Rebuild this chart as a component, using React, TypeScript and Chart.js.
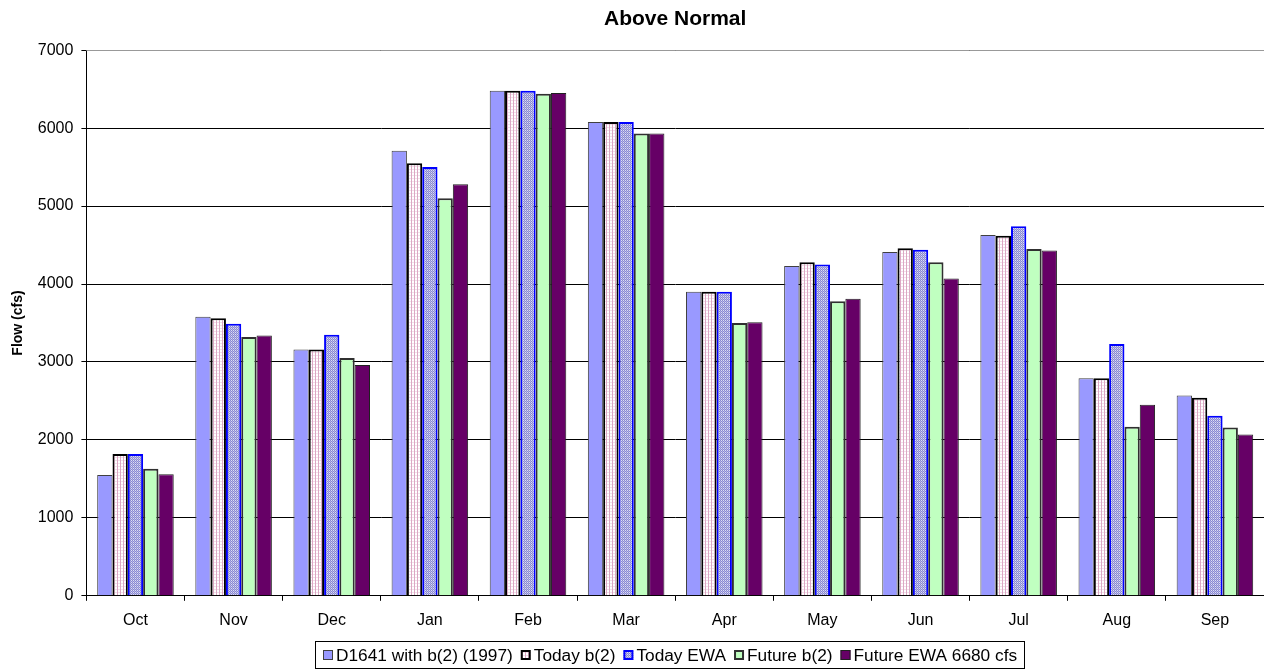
import React, { useEffect, useRef } from "react";
import { Chart, registerables } from "chart.js";

Chart.register(...registerables);

const months = ["Oct", "Nov", "Dec", "Jan", "Feb", "Mar", "Apr", "May", "Jun", "Jul", "Aug", "Sep"];
const seriesNames = ["D1641 with b(2) (1997)", "Today b(2)", "Today EWA", "Future b(2)", "Future EWA 6680 cfs"];
const d1641 = [1550, 3580, 3160, 5710, 6480, 6080, 3900, 4230, 4410, 4630, 2790, 2570];
const todayB2 = [1820, 3560, 3160, 5550, 6480, 6080, 3900, 4280, 4460, 4620, 2790, 2540];
const todayEWA = [1820, 3490, 3350, 5500, 6480, 6080, 3900, 4250, 4440, 4740, 3230, 2310];
const futureB2 = [1630, 3320, 3050, 5100, 6440, 5930, 3500, 3780, 4280, 4450, 2170, 2160];
const futureEWA = [1560, 3340, 2960, 5280, 6450, 5930, 3510, 3810, 4070, 4430, 2450, 2070];
const yTicks = [0, 1000, 2000, 3000, 4000, 5000, 6000, 7000];

const FONT = "Liberation Sans, Arial, sans-serif";

function makePattern(ctx: CanvasRenderingContext2D, w: number, h: number, draw: (c: CanvasRenderingContext2D) => void) {
  const c = document.createElement("canvas");
  c.width = w;
  c.height = h;
  const cc = c.getContext("2d")!;
  draw(cc);
  return ctx.createPattern(c, "repeat")!;
}

// Legend drawn in the style of the original (box, small gap, text, gap)
const boxedLegend = {
  id: "boxedLegend",
  afterDraw(chart: any) {
    const ctx = chart.ctx;
    const ds = chart.data.datasets;
    ctx.save();
    ctx.font = `17.3px ${FONT}`;
    ctx.textBaseline = "middle";
    const box = 10, gapBT = 3, gapItem = 8;
    const widths = ds.map((d: any) => ctx.measureText(d.label).width);
    let total = 0;
    widths.forEach((w: number, i: number) => {
      total += box + gapBT + w + (i < ds.length - 1 ? gapItem : 0);
    });
    const cx = 670;
    const cy = 655;
    let x = Math.round(cx - total / 2);
    const left = x - 8;
    const right = Math.round(x + total + 7);
    ctx.strokeStyle = "#000";
    ctx.lineWidth = 1;
    ctx.strokeRect(left + 0.5, 641.5, right - left, 27);
    ds.forEach((d: any, i: number) => {
      ctx.fillStyle = d.backgroundColor;
      ctx.fillRect(x, cy - 5, box, box);
      ctx.strokeStyle = d.borderColor;
      ctx.lineWidth = d.borderWidth > 1 ? 2 : 1;
      if (d.borderWidth > 1) ctx.strokeRect(x + 1, cy - 4, box - 2, box - 2);
      else ctx.strokeRect(x + 0.5, cy - 4.5, box - 1, box - 1);
      ctx.fillStyle = "#000";
      ctx.fillText(d.label, x + box + gapBT, cy + 1);
      x += box + gapBT + widths[i] + gapItem;
    });
    ctx.restore();
  },
};

const plotBorder = {
  id: "plotBorder",
  afterDatasetsDraw(chart: any) {
    const a = chart.chartArea;
    const ctx = chart.ctx;
    ctx.save();
    ctx.strokeStyle = "#999";
    ctx.lineWidth = 1;
    ctx.beginPath();
    ctx.moveTo(a.left, Math.round(a.top) + 0.5);
    ctx.lineTo(a.right, Math.round(a.top) + 0.5);
    ctx.stroke();
    ctx.restore();
  },
};

export default function App() {
  const ref = useRef<HTMLCanvasElement>(null);
  useEffect(() => {
    const canvas = ref.current!;
    const ctx = canvas.getContext("2d")!;
    const stripe = makePattern(ctx, 3, 3, (c) => {
      c.fillStyle = "#ffffff";
      c.fillRect(0, 0, 3, 3);
      c.fillStyle = "#dca8c4";
      c.fillRect(0, 0, 1, 3);
      c.fillStyle = "#f2e0ea";
      c.fillRect(1, 1, 2, 1);
    });
    const checker = makePattern(ctx, 2, 2, (c) => {
      c.fillStyle = "#b4b4e8";
      c.fillRect(0, 0, 2, 2);
      c.fillStyle = "#8a8ad0";
      c.fillRect(0, 0, 1, 1);
      c.fillRect(1, 1, 1, 1);
      c.fillStyle = "#dcdcf4";
      c.fillRect(1, 0, 1, 1);
    });
    const values = [d1641, todayB2, todayEWA, futureB2, futureEWA];
    const fills: any[] = ["#9999ff", stripe, checker, "#c0ffc0", "#660066"];
    const borders = ["#404040", "#000000", "#0000ff", "#303030", "#202020"];
    const widths = [1, 2, 2, 2, 1];
    const chart = new Chart(canvas, {
      type: "bar",
      data: {
        labels: months,
        datasets: values.map((v, i) => ({
          label: seriesNames[i],
          data: v,
          backgroundColor: fills[i],
          borderColor: borders[i],
          borderWidth: widths[i],
          categoryPercentage: 0.78,
          barPercentage: 1.0,
        })),
      },
      options: {
        animation: false,
        responsive: false,
        maintainAspectRatio: false,
        layout: { padding: { left: 10, right: 0, top: 0, bottom: 29 } },
        plugins: {
          title: {
            display: true,
            text: "Above Normal",
            fullSize: false,
            color: "#000",
            font: { family: FONT, size: 21, weight: "bold" },
            padding: { top: 7, bottom: 18 },
          },
          legend: { display: false },
          tooltip: { enabled: false },
        },
        scales: {
          x: {
            grid: { display: true, offset: true, drawOnChartArea: false, drawTicks: true, tickLength: 5, color: "#000" },
            border: { color: "#000", width: 1 },
            ticks: { color: "#000", font: { family: FONT, size: 16 }, padding: 10 },
          },
          y: {
            min: 0,
            max: 7000,
            afterBuildTicks: (s: any) => {
              s.ticks = yTicks.map((v) => ({ value: v }));
            },
            grid: { color: "#000", tickLength: 5, drawTicks: true },
            border: { color: "#000", width: 1 },
            ticks: { color: "#000", font: { family: FONT, size: 16 }, padding: 8, callback: (v: any) => String(v) },
            title: {
              display: true,
              text: "Flow (cfs)",
              color: "#000",
              font: { family: FONT, size: 14, weight: "bold" },
              padding: { top: 0, bottom: 3 },
            },
          },
        },
      },
      plugins: [boxedLegend, plotBorder],
    });
    return () => chart.destroy();
  }, []);
  return (
    <div style={{ position: "fixed", left: 0, top: 0, width: 1264, height: 669, background: "#fff" }}>
      <canvas ref={ref} width={1264} height={669} style={{ width: 1264, height: 669, display: "block" }} />
    </div>
  );
}
